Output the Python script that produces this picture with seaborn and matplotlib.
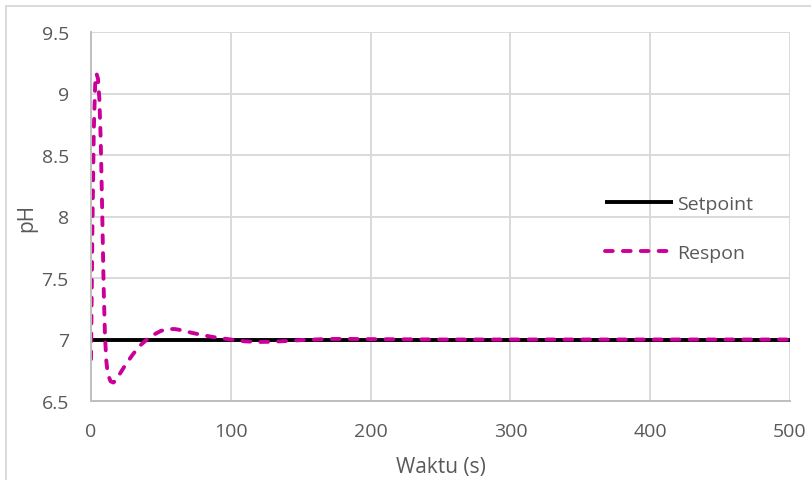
import matplotlib
matplotlib.use("Agg")
import matplotlib.pyplot as plt
from matplotlib.lines import Line2D
import seaborn as sns
import pandas as pd

# Controller response of pH over time
waktu_respon = [0, 1, 2, 3, 4, 5, 6, 7, 8, 9, 10, 11, 12, 14, 16, 18, 20, 25, 30,
                35, 40, 45, 50, 55, 60, 65, 70, 80, 90, 100, 110, 120, 130, 140,
                150, 160, 170, 180, 200, 250, 300, 400, 500]
ph_respon = [6.84, 7.9, 8.7, 9.08, 9.16, 9.12, 8.95, 8.6, 8.05, 7.45, 7.03, 6.82,
             6.72, 6.66, 6.65, 6.67, 6.71, 6.80, 6.88, 6.95, 7.00, 7.04, 7.07,
             7.085, 7.085, 7.075, 7.06, 7.035, 7.015, 7.0, 6.985, 6.98, 6.982,
             6.988, 6.995, 7.0, 7.004, 7.005, 7.003, 7.0, 7.0, 7.0, 7.0]

# Setpoint
waktu_setpoint = [0, 500]
ph_setpoint = [7, 7]

series_names = ["Setpoint", "Respon"]
x_ticks = [0, 100, 200, 300, 400, 500]
y_ticks = [6.5, 7, 7.5, 8, 8.5, 9, 9.5]

df = pd.concat([
    pd.DataFrame({"Waktu": waktu_setpoint, "pH": ph_setpoint, "Seri": series_names[0]}),
    pd.DataFrame({"Waktu": waktu_respon, "pH": ph_respon, "Seri": series_names[1]}),
], ignore_index=True)

sns.set_theme(style="white")
plt.rcParams["font.family"] = ["Open Sans", "DejaVu Sans"]

text_color = "#595959"
grid_color = "#d9d9d9"
lw = 2.8
dash = (2.0, 2.6)

fig = plt.figure(figsize=(8.12, 4.81), dpi=100)
ax = fig.add_axes([91 / 812, 1 - 402 / 481, (790 - 91) / 812, (402 - 33) / 481])

sns.lineplot(
    data=df, x="Waktu", y="pH", hue="Seri", style="Seri",
    palette={"Setpoint": "#000000", "Respon": "#cc0099"},
    dashes={"Setpoint": "", "Respon": dash},
    estimator=None, sort=False, linewidth=lw, ax=ax, legend=False,
)
for line in ax.get_lines():
    line.set_dash_capstyle("round")
    line.set_solid_capstyle("butt")
    line.set_solid_joinstyle("round")

ax.set_xlim(0, 500)
ax.set_ylim(6.5, 9.5)
ax.set_xticks(x_ticks)
ax.set_yticks(y_ticks)
ax.set_xticklabels([str(v) for v in x_ticks])
ax.set_yticklabels([f"{v:g}" for v in y_ticks])
ax.grid(True, color=grid_color, linewidth=1.4)
ax.set_axisbelow(True)
for side in ["top", "right"]:
    ax.spines[side].set_visible(False)
for side in ["left", "bottom"]:
    ax.spines[side].set_color("#bfbfbf")
    ax.spines[side].set_linewidth(1.4)
ax.tick_params(axis="both", length=0, labelsize=14, labelcolor=text_color)
ax.tick_params(axis="x", pad=15)
ax.tick_params(axis="y", pad=16)
ax.set_xlabel("Waktu (s)", fontsize=15, color=text_color, labelpad=12)
ax.set_ylabel("pH", fontsize=15, color=text_color, labelpad=3)

handles = [
    Line2D([], [], color="#000000", linewidth=lw, solid_capstyle="butt"),
    Line2D([], [], color="#cc0099", linewidth=lw, linestyle=(0, dash),
           dash_capstyle="round"),
]
leg = ax.legend(handles, series_names, loc="upper left",
                bbox_to_anchor=(0.71, 0.607), frameon=False, fontsize=14,
                handlelength=3.5, handletextpad=0.2, labelspacing=1.6,
                labelcolor=text_color)

# Chart frame edges
fig.add_artist(Line2D([6 / 812, 6 / 812], [0, 1 - 7 / 481], color=grid_color,
                      linewidth=1.4, transform=fig.transFigure))
fig.add_artist(Line2D([6 / 812, 1], [1 - 7 / 481, 1 - 7 / 481], color=grid_color,
                      linewidth=1.4, transform=fig.transFigure))

fig.savefig("out.png", dpi=100)
